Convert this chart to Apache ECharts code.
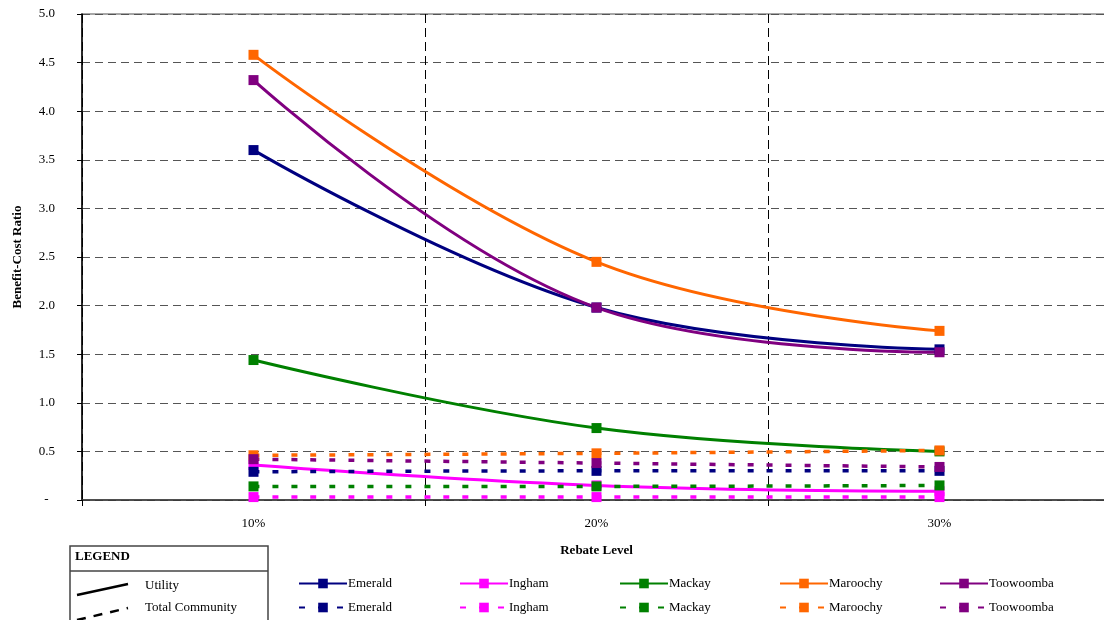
<!DOCTYPE html>
<html>
<head>
<meta charset="utf-8">
<script src="https://cdn.jsdelivr.net/npm/echarts@6/dist/echarts.min.js"></script>
<style>
  html, body { margin: 0; padding: 0; background: #fff; overflow: hidden; }
  /* the plot area runs slightly past the right edge of the page */
  #chart { width: 1120px; height: 620px; }
</style>
</head>
<body>
<div id="chart"></div>
<script>
// Rebate levels along the x axis
const rebateLevels = ['10%', '20%', '30%'];
const towns = ['Emerald', 'Ingham', 'Mackay', 'Maroochy', 'Toowoomba'];
const townColors = ['#000080', '#FF00FF', '#008000', '#FF6600', '#800080'];

// Benefit-cost ratio, utility perspective
const emeraldUtility   = [3.60, 1.98, 1.55];
const inghamUtility    = [0.36, 0.15, 0.09];
const mackayUtility    = [1.44, 0.74, 0.50];
const maroochyUtility  = [4.58, 2.45, 1.74];
const toowoombaUtility = [4.32, 1.98, 1.52];

// Benefit-cost ratio, total community perspective
const emeraldCommunity   = [0.29, 0.30, 0.30];
const inghamCommunity    = [0.03, 0.03, 0.03];
const mackayCommunity    = [0.14, 0.14, 0.15];
const maroochyCommunity  = [0.46, 0.48, 0.51];
const toowoombaCommunity = [0.42, 0.38, 0.34];

const utilitySets = [emeraldUtility, inghamUtility, mackayUtility, maroochyUtility, toowoombaUtility];
const communitySets = [emeraldCommunity, inghamCommunity, mackayCommunity, maroochyCommunity, toowoombaCommunity];

const FONT = '"Liberation Serif", "Times New Roman", serif';
const DASH = [6, 13];

function makeSeries(kind, values, i) {
  const dashed = kind === 'community';
  return {
    name: towns[i] + (dashed ? ' (Total Community)' : ' (Utility)'),
    type: 'line',
    data: values,
    smooth: 0.4,
    symbol: 'rect',
    symbolSize: 10,
    showSymbol: true,
    color: townColors[i],
    lineStyle: { width: dashed ? 3.5 : 3, type: dashed ? DASH : 'solid', color: townColors[i] },
    itemStyle: { color: townColors[i] },
    emphasis: { disabled: true },
    animation: false,
    z: dashed ? 3 : 2
  };
}

const series = [];
utilitySets.forEach((v, i) => series.push(makeSeries('utility', v, i)));
communitySets.forEach((v, i) => series.push(makeSeries('community', v, i)));

// One legend block per entry so the columns line up across both rows
const legendLefts = [298, 459, 619, 779, 939];
const legends = [];
towns.forEach((t, i) => {
  [['Utility', 577], ['Total Community', 601]].forEach(([kind, top]) => {
    legends.push({
      data: [t + ' (' + kind + ')'],
      left: legendLefts[i],
      top: top,
      padding: 0,
      itemWidth: 48,
      itemHeight: 12,
      selectedMode: false,
      formatter: (name) => name.split(' (')[0],
      textStyle: { fontFamily: FONT, fontSize: 13, color: '#000', padding: [0, 0, 0, -4] }
    });
  });
});

const chart = echarts.init(document.getElementById('chart'), null, { renderer: 'canvas' });
chart.setOption({
  backgroundColor: '#fff',
  animation: false,
  grid: {
    left: 82, top: 14, width: 1029, height: 486,
    show: true, borderColor: '#8a8a8a', borderWidth: 1.5, backgroundColor: 'transparent'
  },
  legend: legends,
  xAxis: {
    type: 'category',
    data: rebateLevels,
    boundaryGap: true,
    name: 'Rebate Level',
    nameLocation: 'middle',
    nameGap: 44,
    nameTextStyle: { fontFamily: FONT, fontSize: 13, fontWeight: 'bold', color: '#000' },
    axisLine: { lineStyle: { color: '#333', width: 1.5 } },
    axisTick: { show: true, length: 6, lineStyle: { color: '#000' } },
    axisLabel: { fontFamily: FONT, fontSize: 13, color: '#000', margin: 17 },
    splitLine: { show: true, lineStyle: { color: '#000', type: [9, 5], width: 1 } }
  },
  yAxis: {
    type: 'value',
    min: 0, max: 5, interval: 0.5,
    name: 'Benefit-Cost Ratio',
    nameLocation: 'middle',
    nameGap: 58,
    nameRotate: 90,
    nameTextStyle: { fontFamily: FONT, fontSize: 13, fontWeight: 'bold', color: '#000' },
    axisLine: { show: true, lineStyle: { color: '#000', width: 1.5 } },
    axisTick: { show: true, length: 5, lineStyle: { color: '#000' } },
    axisLabel: {
      fontFamily: FONT, fontSize: 13, color: '#000', margin: 27,
      formatter: (v) => v === 0 ? '-  ' : v.toFixed(1)
    },
    splitLine: { show: true, lineStyle: { color: '#555', type: [8, 5], width: 1 } }
  },
  graphic: [
    { type: 'rect', shape: { x: 70, y: 546, width: 198, height: 90 },
      style: { fill: '#fff', stroke: '#444', lineWidth: 1.5 }, z: 10 },
    { type: 'line', shape: { x1: 70, y1: 571, x2: 268, y2: 571 },
      style: { stroke: '#444', lineWidth: 1.5 }, z: 11 },
    { type: 'text', left: 75, top: 550, z: 11,
      style: { text: 'LEGEND', font: 'bold 13px ' + FONT, fill: '#000' } },
    { type: 'line', shape: { x1: 77, y1: 595, x2: 128, y2: 584 },
      style: { stroke: '#000', lineWidth: 2.5 }, z: 11 },
    { type: 'text', left: 145, top: 579, z: 11,
      style: { text: 'Utility', font: '13px ' + FONT, fill: '#000' } },
    { type: 'line', shape: { x1: 77, y1: 620, x2: 128, y2: 608 },
      style: { stroke: '#000', lineWidth: 2.5, lineDash: [9, 8] }, z: 11 },
    { type: 'text', left: 145, top: 601, z: 11,
      style: { text: 'Total Community', font: '13px ' + FONT, fill: '#000' } }
  ],
  series: series
});
</script>
</body>
</html>
